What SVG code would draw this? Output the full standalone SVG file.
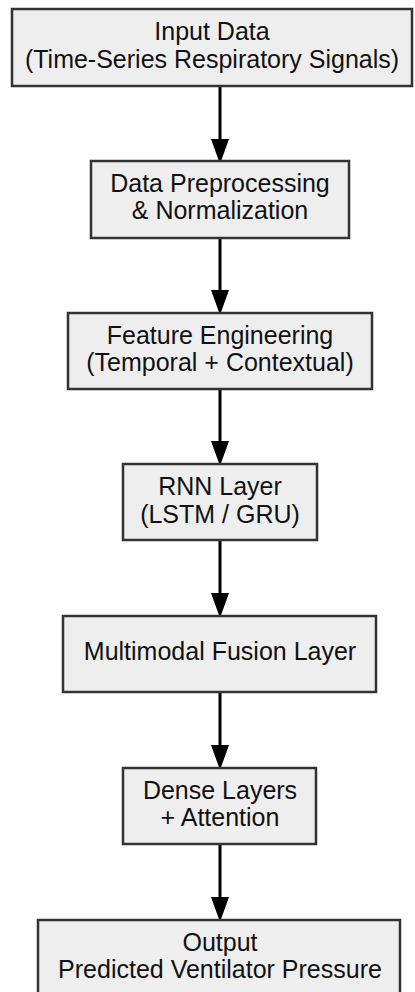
<svg xmlns="http://www.w3.org/2000/svg" width="415" height="992" viewBox="0 0 415 992">
<defs>
<style>
.box{fill:#eeeeee;stroke:#333333;stroke-width:2.5}
.t{font-family:"Liberation Sans",Arial,sans-serif;font-size:25px;fill:#111111;text-anchor:middle}
.c{stroke:#000000;stroke-width:3;fill:none}
.h{fill:#000000}
</style>
</defs>
<rect width="415" height="992" fill="#ffffff"/>
<g id="connectors">
<line class="c" x1="220" y1="86" x2="220" y2="140"/>
<polygon class="h" points="211,139 229,139 220,164"/>
<line class="c" x1="220" y1="238" x2="220" y2="291"/>
<polygon class="h" points="211,290 229,290 220,315"/>
<line class="c" x1="220" y1="389" x2="220" y2="442"/>
<polygon class="h" points="211,441 229,441 220,466"/>
<line class="c" x1="220" y1="540" x2="220" y2="594"/>
<polygon class="h" points="211,593 229,593 220,618"/>
<line class="c" x1="220" y1="692" x2="220" y2="746"/>
<polygon class="h" points="211,745 229,745 220,770"/>
<line class="c" x1="220" y1="844" x2="220" y2="898"/>
<polygon class="h" points="211,897 229,897 220,922"/>
</g>
<g id="n1">
<rect class="box" x="12" y="9" width="400" height="77"/>
<text class="t" x="212" y="40">Input Data</text>
<text class="t" x="212" y="68">(Time-Series Respiratory Signals)</text>
</g>
<g id="n2">
<rect class="box" x="91" y="161" width="258" height="77"/>
<text class="t" x="220" y="192">Data Preprocessing</text>
<text class="t" x="220" y="219">&amp; Normalization</text>
</g>
<g id="n3">
<rect class="box" x="68" y="313" width="304" height="76"/>
<text class="t" x="220" y="344">Feature Engineering</text>
<text class="t" x="220" y="371">(Temporal + Contextual)</text>
</g>
<g id="n4">
<rect class="box" x="123" y="464" width="194" height="76"/>
<text class="t" x="220" y="495">RNN Layer</text>
<text class="t" x="220" y="523">(LSTM / GRU)</text>
</g>
<g id="n5">
<rect class="box" x="63" y="616" width="313" height="76"/>
<text class="t" x="220" y="660">Multimodal Fusion Layer</text>
</g>
<g id="n6">
<rect class="box" x="123" y="768" width="193" height="76"/>
<text class="t" x="220" y="799">Dense Layers</text>
<text class="t" x="220" y="826">+ Attention</text>
</g>
<g id="n7">
<rect class="box" x="38" y="920" width="362" height="77"/>
<text class="t" x="220" y="951">Output</text>
<text class="t" x="220" y="978">Predicted Ventilator Pressure</text>
</g>
</svg>
